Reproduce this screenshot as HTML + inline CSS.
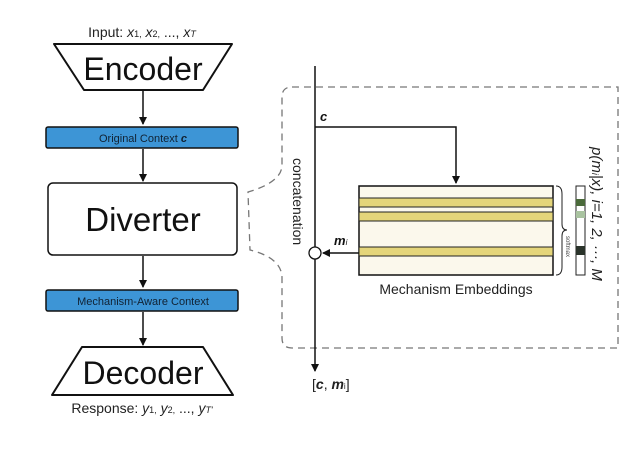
<!DOCTYPE html>
<html><head><style>body{margin:0;background:#fff}</style></head><body>
<svg width="638" height="447" xmlns="http://www.w3.org/2000/svg" font-family="Liberation Sans, sans-serif">
<defs><marker id="a" markerWidth="8" markerHeight="8" refX="7" refY="4" orient="auto" markerUnits="userSpaceOnUse"><path d="M0,0 L8,4 L0,8 z" fill="#111"/></marker></defs>
<text x="142" y="37" font-size="14" text-anchor="middle" fill="#222">Input: <tspan font-style="italic">x</tspan><tspan font-size="9">1,</tspan> <tspan font-style="italic">x</tspan><tspan font-size="9">2,</tspan> ..., <tspan font-style="italic">x</tspan><tspan font-size="9" font-style="italic">T</tspan></text>
<path d="M54,44 L232,44 L203,90 L84,90 Z" fill="#fff" stroke="#111" stroke-width="2" stroke-linejoin="round"/>
<text x="143" y="80" font-size="32" text-anchor="middle" fill="#111">Encoder</text>
<line x1="143" y1="91" x2="143" y2="124" stroke="#111" stroke-width="1.5" marker-end="url(#a)"/>
<rect x="46" y="127" width="192" height="21" rx="2" fill="#3d95d6" stroke="#111" stroke-width="1.5"/>
<text x="143" y="142" font-size="11" text-anchor="middle" fill="#123">Original Context <tspan font-style="italic" font-weight="bold">c</tspan></text>
<line x1="143" y1="149" x2="143" y2="181" stroke="#111" stroke-width="1.5" marker-end="url(#a)"/>
<rect x="48" y="183" width="189" height="72" rx="5" fill="#fff" stroke="#111" stroke-width="1.5"/>
<text x="143" y="231" font-size="33" text-anchor="middle" fill="#111">Diverter</text>
<line x1="143" y1="256" x2="143" y2="287" stroke="#111" stroke-width="1.5" marker-end="url(#a)"/>
<rect x="46" y="290" width="192" height="21" rx="2" fill="#3d95d6" stroke="#111" stroke-width="1.5"/>
<text x="143" y="305" font-size="11" text-anchor="middle" fill="#123">Mechanism-Aware Context</text>
<line x1="143" y1="312" x2="143" y2="345" stroke="#111" stroke-width="1.5" marker-end="url(#a)"/>
<path d="M82,347 L203,347 L233,395 L52,395 Z" fill="#fff" stroke="#111" stroke-width="2" stroke-linejoin="round"/>
<text x="143" y="384" font-size="32" text-anchor="middle" fill="#111">Decoder</text>
<text x="142" y="413" font-size="14" text-anchor="middle" fill="#222">Response: <tspan font-style="italic">y</tspan><tspan font-size="9">1,</tspan> <tspan font-style="italic">y</tspan><tspan font-size="9">2,</tspan> ..., <tspan font-style="italic">y</tspan><tspan font-size="9" font-style="italic">T'</tspan></text>
<path d="M292,87 L618,87 L618,348 L292,348 Q282,348 282,338 L282,278 Q282,258 250,250 L248,192 Q282,182 282,165 L282,97 Q282,87 292,87" fill="none" stroke="#777" stroke-width="1.3" stroke-dasharray="7,5"/>
<line x1="315" y1="66" x2="315" y2="371" stroke="#111" stroke-width="1.5" marker-end="url(#a)"/>
<text x="320" y="121" font-size="13" font-weight="bold" font-style="italic" fill="#111">c</text>
<path d="M315,127 L456,127 L456,183" fill="none" stroke="#111" stroke-width="1.5" marker-end="url(#a)"/>
<text transform="translate(293,158) rotate(90)" font-size="14" fill="#222">concatenation</text>
<rect x="359" y="186" width="194" height="89" fill="#fbf8ec" stroke="#111" stroke-width="1.5"/>
<rect x="359" y="198" width="194" height="9" fill="#e4d57a" stroke="#222" stroke-width="1"/>
<rect x="359" y="212" width="194" height="9" fill="#e4d57a" stroke="#222" stroke-width="1"/>
<rect x="359" y="247" width="194" height="9" fill="#e4d57a" stroke="#222" stroke-width="1"/>
<line x1="359" y1="253" x2="323" y2="253" stroke="#111" stroke-width="1.5" marker-end="url(#a)"/>
<circle cx="315" cy="253" r="6" fill="#fff" stroke="#111" stroke-width="1.3"/>
<text x="334" y="245" font-size="13" font-weight="bold" font-style="italic" fill="#111">m<tspan font-size="8" font-weight="normal">i</tspan></text>
<text x="456" y="294" font-size="14" text-anchor="middle" fill="#222">Mechanism Embeddings</text>
<path d="M556,186 Q562,186 562,194 L562,224 Q562,230 567,230 Q562,230 562,236 L562,267 Q562,275 556,275" fill="none" stroke="#222" stroke-width="1"/>
<text transform="translate(566,236) rotate(90)" font-size="6" fill="#444">softmax</text>
<rect x="576" y="186" width="9" height="89" fill="#fff" stroke="#222" stroke-width="1"/>
<rect x="576" y="199" width="9" height="7" fill="#4a6a3a"/>
<rect x="576" y="211" width="9" height="7" fill="#a9c3a0"/>
<rect x="576" y="246" width="9" height="9" fill="#2a332a"/>
<text transform="translate(592,147) rotate(90)" font-size="15" font-style="italic" fill="#222">p(m<tspan font-size="9">i</tspan>|x), i=1, 2, ···, M</text>
<text x="312" y="389" font-size="14" fill="#222">[<tspan font-weight="bold" font-style="italic">c</tspan>, <tspan font-weight="bold" font-style="italic">m</tspan><tspan font-size="8">i</tspan>]</text>
</svg>
</body></html>
